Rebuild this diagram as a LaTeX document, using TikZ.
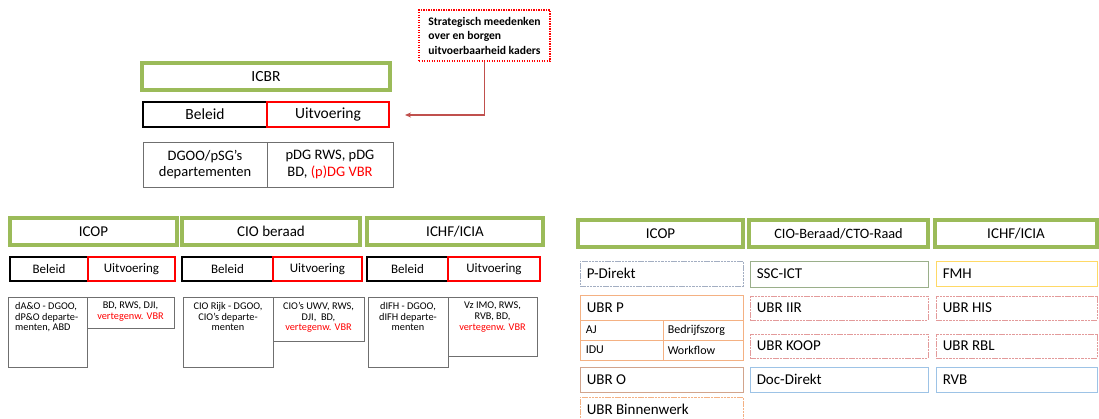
\documentclass[tikz,border=0pt]{standalone}
\usepackage{fontspec}
\setmainfont{Carlito}
\usetikzlibrary{arrows.meta}
\definecolor{grn}{HTML}{9BBB59}
\definecolor{darkred}{HTML}{C0504D}
\definecolor{bxgray}{HTML}{6F6F6F}
\definecolor{pdir}{HTML}{A3AEC2}
\definecolor{lorange}{HTML}{F4B183}
\definecolor{brownish}{HTML}{D2A48C}
\definecolor{sscgreen}{HTML}{9AAF8A}
\definecolor{pinkred}{HTML}{E39A9A}
\definecolor{lblue}{HTML}{9DC3E6}
\definecolor{yel}{HTML}{FFD966}
\newcommand\mybox[7][]{\node[inner sep=0pt, minimum width={#5-#3}, minimum height={#6-#4}, #1] (#2) at ({(#3+#5)/2},{(#4+#6)/2}) {#7};}
\begin{document}
\begin{tikzpicture}[x=1pt,y=-1pt,
  greenbox/.style={draw=grn, line width=4pt, font=\fontsize{15}{18}\selectfont},
  polbox/.style={draw=black, line width=2pt},
  uitbox/.style={draw=red, line width=2pt},
  graybox/.style={draw=bxgray, line width=0.9pt},
  smalltxt/.style={inner sep=0pt, align=center, font=\fontsize{10.3}{10.7}\selectfont},
  rbox/.style={line width=0.9pt},
  fined/.style={dash pattern=on 2.5pt off 0.8pt},
  rtxt/.style={anchor=west, inner sep=0pt, font=\fontsize{15}{18}\selectfont},
  ttxt/.style={anchor=west, inner sep=0pt, font=\fontsize{12}{14}\selectfont},
  callout/.style={draw=red, line width=1.9pt, dash pattern=on 1.4pt off 1.1pt},
  conn/.style={draw=darkred, line width=1.4pt, -{Stealth[length=6pt,width=5pt]}}
]
\useasboundingbox (0,0) rectangle (1099,418);

% ---------- callout ----------
\mybox[callout]{call}{419}{10}{550}{61}{}
\node[inner sep=0pt, align=left, font=\bfseries\fontsize{11.6}{14.5}\selectfont] (calltxt) at (call.center) {Strategisch meedenken\\over en borgen\\uitvoerbaarheid kaders};
\coordinate (tgt) at (405,115);
\draw[conn] (call.south) |- (tgt);

% ---------- ICBR ----------
\mybox[greenbox, font=\fontsize{15.5}{18}\selectfont]{icbr}{142}{63}{390}{90}{ICBR}
\mybox[polbox, font=\fontsize{15.5}{18}\selectfont]{icbrbel}{143}{102}{267}{127}{Beleid}
\mybox[uitbox, font=\fontsize{15.5}{18}\selectfont]{icbruit}{267}{102}{389}{127}{Uitvoering}
\mybox[graybox, align=center, font=\fontsize{14.5}{16.7}\selectfont]{icbrl}{143}{142}{267}{187}{DGOO/pSG’s\\departementen}
\mybox[graybox, align=center, font=\fontsize{14.5}{16.7}\selectfont]{icbrr}{267}{142}{393}{187}{pDG RWS, pDG\\BD, \textcolor{red}{(p)DG VBR}}

% ---------- left: ICOP ----------
\mybox[greenbox]{icop}{10}{218}{177}{245}{ICOP}
\mybox[polbox, font=\fontsize{13}{15}\selectfont]{icopbel}{10}{257}{88}{281}{Beleid}
\mybox[uitbox, font=\fontsize{13}{15}\selectfont]{icopuit}{88}{257}{175}{281}{Uitvoering}
\mybox[graybox]{icopb1}{8}{297}{87}{367}{}
\mybox[graybox, fill=white]{icopb2}{87}{297}{174}{328}{}
\node[smalltxt, align=left, anchor=north west] (icopt1) at (15,302) {dA\&O - DGOO,\\dP\&O departe-\\menten, ABD};
\node[smalltxt, anchor=north] (icopt2) at (130.5,302) {BD, RWS, DJI,\\\textcolor{red}{vertegenw. VBR}};

% ---------- left: CIO beraad ----------
\mybox[greenbox]{cio}{182}{218}{360}{245}{CIO beraad}
\mybox[polbox, font=\fontsize{13}{15}\selectfont]{ciobel}{182}{257}{273}{281}{Beleid}
\mybox[uitbox, font=\fontsize{13}{15}\selectfont]{ciouit}{273}{257}{362}{281}{Uitvoering}
\mybox[graybox]{ciob1}{183}{297}{273}{367}{}
\mybox[graybox, fill=white]{ciob2}{273}{297}{364}{341}{}
\node[smalltxt, anchor=north] (ciot1) at (228,302) {CIO Rijk - DGOO,\\CIO’s departe-\\menten};
\node[smalltxt, anchor=north] (ciot2) at (318.5,302) {CIO’s UWV, RWS,\\DJI,\ \ BD,\\\textcolor{red}{vertegenw. VBR}};

% ---------- left: ICHF/ICIA ----------
\mybox[greenbox]{ichf}{367}{218}{543}{245}{ICHF/ICIA}
\mybox[polbox, font=\fontsize{13}{15}\selectfont]{ichfbel}{367}{257}{448}{281}{Beleid}
\mybox[uitbox, font=\fontsize{13}{15}\selectfont]{ichfuit}{448}{257}{540}{281}{Uitvoering}
\mybox[graybox]{ichfb1}{368}{297}{448}{367}{}
\mybox[graybox, fill=white]{ichfb2}{448}{297}{537}{356}{}
\node[smalltxt, anchor=north] (ichft1) at (408,302) {dIFH - DGOO,\\dIFH departe-\\menten};
\node[smalltxt, anchor=north] (ichft2) at (492.5,302) {Vz IMO, RWS,\\RVB, BD,\\\textcolor{red}{vertegenw. VBR}};

% ---------- right: ICOP ----------
\mybox[greenbox]{ricop}{578}{220}{743}{247}{ICOP}
\mybox[rbox, draw=pdir, fined]{pdirekt}{580}{261}{743}{286}{}
\node[rtxt] (pdirektt) at ([xshift=7pt]pdirekt.west) {P-Direkt};
\mybox[rbox, draw=lorange]{ubrp}{580}{295}{743}{320}{}
\node[rtxt] (ubrpt) at ([xshift=7pt]ubrp.west) {UBR P};
\mybox[rbox, draw=lorange]{aj}{580}{320}{663}{340}{}
\mybox[rbox, draw=lorange]{bz}{663}{320}{743}{340}{}
\mybox[rbox, draw=lorange]{idu}{580}{340}{663}{360}{}
\mybox[rbox, draw=lorange]{wf}{663}{340}{743}{360}{}
\node[ttxt] (ajt) at ([xshift=6pt]aj.west) {AJ};
\node[ttxt] (bzt) at ([xshift=5pt]bz.west) {Bedrijfszorg};
\node[ttxt] (idut) at ([xshift=6pt]idu.west) {IDU};
\node[ttxt] (wft) at ([xshift=5pt]wf.west) {Workflow};
\mybox[rbox, draw=brownish]{ubro}{580}{367}{743}{392}{}
\node[rtxt] (ubrot) at ([xshift=7pt]ubro.west) {UBR O};
\mybox[rbox, draw=lorange, fined]{ubrb}{580}{397}{743}{422}{}
\node[rtxt] (ubrbt) at ([xshift=7pt]ubrb.west) {UBR Binnenwerk};

% ---------- right: CIO-Beraad/CTO-Raad ----------
\mybox[greenbox, font=\fontsize{14.3}{17}\selectfont]{rcio}{749}{220}{928}{247}{CIO-Beraad/CTO-Raad}
\mybox[rbox, draw=sscgreen]{ssc}{750}{261}{928}{287}{}
\node[rtxt] (ssct) at ([xshift=7pt]ssc.west) {SSC-ICT};
\mybox[rbox, draw=pinkred, fined]{iir}{750}{296}{928}{320}{}
\node[rtxt] (iirt) at ([xshift=7pt]iir.west) {UBR IIR};
\mybox[rbox, draw=pinkred, fined]{koop}{750}{334}{928}{358}{}
\node[rtxt] (koopt) at ([xshift=7pt]koop.west) {UBR KOOP};
\mybox[rbox, draw=lblue]{doc}{750}{367}{928}{392}{}
\node[rtxt] (doct) at ([xshift=7pt]doc.west) {Doc-Direkt};

% ---------- right: ICHF/ICIA ----------
\mybox[greenbox]{richf}{935}{220}{1097}{247}{ICHF/ICIA}
\mybox[rbox, draw=yel]{fmh}{936}{261}{1097}{286}{}
\node[rtxt] (fmht) at ([xshift=7pt]fmh.west) {FMH};
\mybox[rbox, draw=pinkred, fined]{his}{936}{296}{1097}{320}{}
\node[rtxt] (hist) at ([xshift=7pt]his.west) {UBR HIS};
\mybox[rbox, draw=pinkred, fined]{rbl}{936}{334}{1097}{358}{}
\node[rtxt] (rblt) at ([xshift=7pt]rbl.west) {UBR RBL};
\mybox[rbox, draw=lblue]{rvb}{936}{367}{1097}{392}{}
\node[rtxt] (rvbt) at ([xshift=7pt]rvb.west) {RVB};
\end{tikzpicture}
\end{document}
